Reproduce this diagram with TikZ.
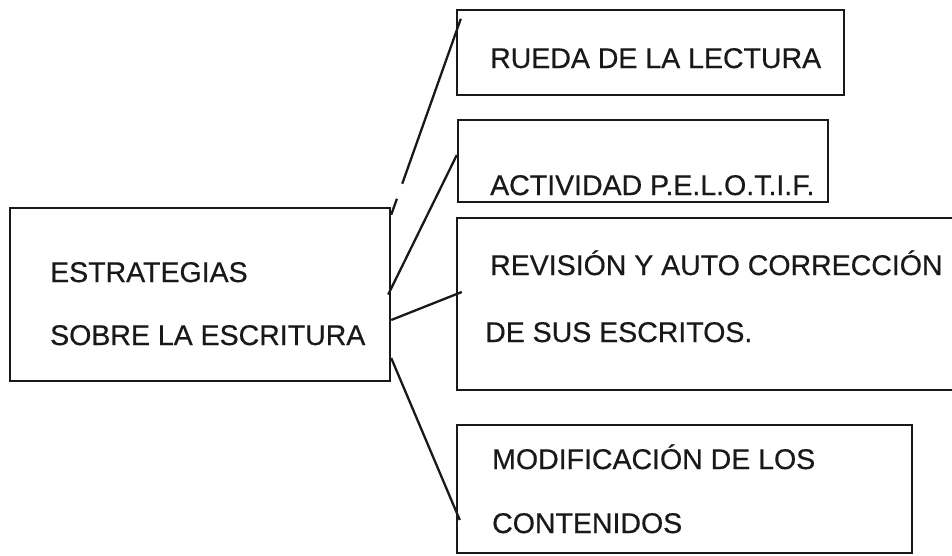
\documentclass[tikz,border=0pt]{standalone}
\usepackage{fontspec}
\setmainfont{Liberation Sans}
\newfontfamily\scanfont[FakeBold=0.5]{Liberation Sans}
\begin{document}
\begin{tikzpicture}[x=1pt,y=-1pt,
  box/.style={draw=black!90, line width=2.4pt, rectangle, inner sep=0pt},
  lbl/.style={inner sep=0pt, anchor=base west, text=black!90, font=\scanfont\fontsize{28.5}{34}\selectfont},
  conn/.style={draw=black!90, line width=2.3pt}]
\useasboundingbox (0,0) rectangle (952,555);
\clip (0,0) rectangle (952,555);
% boxes
\node[box, minimum width=380pt, minimum height=173pt] (L) at (200,294.5) {};
\node[box, minimum width=387pt, minimum height=85pt] (B1) at (650.5,52.5) {};
\node[box, minimum width=370pt, minimum height=82pt] (B2) at (643,161) {};
\node[box, minimum width=508pt, minimum height=172pt] (B3) at (711,304) {};
\node[box, minimum width=455pt, minimum height=128pt] (B4) at (684.5,489) {};
% texts
\node[lbl] (t0a) at (50,282) {ESTRATEGIAS};
\node[lbl] (t0b) at (50,345) {SOBRE LA ESCRITURA};
\node[lbl] (t1) at (490,68) {RUEDA DE LA LECTURA};
\node[lbl] (t2) at (490,195) {ACTIVIDAD P.E.L.O.T.I.F.};
\node[lbl] (t3a) at (490,275) {REVISIÓN Y AUTO CORRECCIÓN};
\node[lbl] (t3b) at (485,342) {DE SUS ESCRITOS.};
\node[lbl] (t4a) at (492,469) {MODIFICACIÓN DE LOS};
\node[lbl] (t4b) at (492,533) {CONTENIDOS};
% connectors
\draw[conn, dash pattern=on 17pt off 16pt on 400pt] ([yshift=-8pt]L.north east) -- ([shift={(5pt,-10pt)}]B1.north west);
\draw[conn] ([xshift=-3pt]L.east) -- ([yshift=6pt]B2.west);
\draw[conn] ([yshift=-25.5pt]L.east) -- ([shift={(6pt,12pt)}]B3.west);
\draw[conn] ([yshift=-63.5pt]L.east) -- ([shift={(4pt,-31pt)}]B4.west);
\end{tikzpicture}
\end{document}
